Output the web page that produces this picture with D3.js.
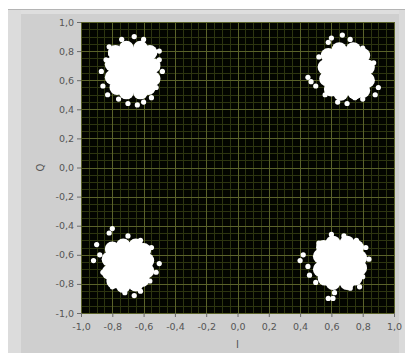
<!DOCTYPE html>
<html>
<head>
<meta charset="utf-8">
<script src="https://d3js.org/d3.v7.min.js"></script>
<style>
  html, body { margin: 0; padding: 0; background: #ffffff; }
  svg { display: block; }
</style>
</head>
<body>
<div id="chart"></div>
<script>
// constellation samples (I, Q)
// dense middle of each cloud
var coreTL = [[-0.67,0.67],[-0.75,0.75],[-0.67,0.77],[-0.59,0.75],[-0.76,0.67],[-0.58,0.67],[-0.75,0.59],
              [-0.67,0.57],[-0.59,0.59],[-0.80,0.71],[-0.54,0.70],[-0.71,0.82],[-0.62,0.82],[-0.80,0.62],
              [-0.54,0.61],[-0.71,0.52],[-0.62,0.52],[-0.78,0.79],[-0.56,0.79],[-0.77,0.55],[-0.57,0.55],
              [-0.71,0.71],[-0.63,0.71],[-0.71,0.63],[-0.63,0.63]];
var coreTR = [[0.69,0.66],[0.61,0.73],[0.69,0.76],[0.77,0.74],[0.60,0.65],[0.78,0.66],[0.62,0.58],
              [0.69,0.56],[0.77,0.58],[0.56,0.69],[0.83,0.69],[0.65,0.81],[0.74,0.81],[0.57,0.61],
              [0.83,0.60],[0.66,0.51],[0.75,0.52],[0.58,0.77],[0.80,0.77],[0.60,0.54],[0.80,0.53],
              [0.65,0.70],[0.73,0.70],[0.65,0.62],[0.73,0.62]];
var coreBL = [[-0.70,-0.67],[-0.77,-0.60],[-0.70,-0.58],[-0.62,-0.60],[-0.78,-0.67],[-0.61,-0.67],[-0.77,-0.75],
              [-0.70,-0.77],[-0.63,-0.75],[-0.82,-0.63],[-0.58,-0.64],[-0.73,-0.54],[-0.65,-0.54],[-0.82,-0.72],
              [-0.58,-0.71],[-0.73,-0.81],[-0.65,-0.80],[-0.80,-0.56],[-0.60,-0.57],[-0.79,-0.78],[-0.61,-0.77],
              [-0.74,-0.63],[-0.66,-0.63],[-0.74,-0.71],[-0.66,-0.71]];
var coreBR = [[0.65,-0.65],[0.58,-0.58],[0.65,-0.56],[0.73,-0.58],[0.57,-0.65],[0.74,-0.65],[0.58,-0.73],
              [0.65,-0.75],[0.72,-0.73],[0.53,-0.61],[0.78,-0.62],[0.61,-0.52],[0.70,-0.52],[0.53,-0.70],
              [0.78,-0.69],[0.61,-0.79],[0.70,-0.79],[0.55,-0.55],[0.76,-0.55],[0.56,-0.76],[0.75,-0.76],
              [0.61,-0.61],[0.69,-0.61],[0.61,-0.69],[0.69,-0.69]];

// loose samples around the edges of each cloud
var edgeTL = [[-0.86,0.56],[-0.84,0.74],[-0.82,0.83],[-0.66,0.90],[-0.60,0.88],[-0.50,0.80],[-0.48,0.66],
              [-0.52,0.55],[-0.60,0.45],[-0.70,0.44],[-0.76,0.47],[-0.83,0.50],[-0.87,0.66],[-0.74,0.88],
              [-0.50,0.74],[-0.55,0.48],[-0.64,0.43],[-0.81,0.78]];
var edgeTR = [[0.45,0.62],[0.47,0.59],[0.50,0.56],[0.52,0.76],[0.58,0.86],[0.67,0.91],[0.72,0.88],
              [0.80,0.82],[0.87,0.72],[0.90,0.55],[0.88,0.50],[0.80,0.47],[0.70,0.44],[0.64,0.45],
              [0.56,0.50],[0.85,0.62],[0.60,0.89],[0.75,0.48]];
var edgeBL = [[-0.80,-0.42],[-0.82,-0.45],[-0.90,-0.53],[-0.88,-0.60],[-0.86,-0.72],[-0.80,-0.82],[-0.72,-0.86],
              [-0.62,-0.85],[-0.56,-0.78],[-0.50,-0.66],[-0.55,-0.55],[-0.62,-0.50],[-0.70,-0.47],[-0.92,-0.64],
              [-0.66,-0.88],[-0.52,-0.72]];
var edgeBR = [[0.42,-0.60],[0.45,-0.68],[0.40,-0.64],[0.52,-0.52],[0.60,-0.46],[0.68,-0.47],[0.76,-0.50],
              [0.82,-0.55],[0.84,-0.63],[0.80,-0.75],[0.72,-0.83],[0.62,-0.86],[0.58,-0.90],[0.61,-0.90],
              [0.78,-0.82],[0.50,-0.79],[0.46,-0.74]];

var tickValues = [-1, -0.8, -0.6, -0.4, -0.2, 0, 0.2, 0.4, 0.6, 0.8, 1];
var tickLabels = ["-1,0", "-0,8", "-0,6", "-0,4", "-0,2", "0,0", "0,2", "0,4", "0,6", "0,8", "1,0"];
var minorValues = d3.range(-20, 21).map(function (k) { return k / 20; });

var width  = 408;
var height = 353;
var margin = {top: 22, right: 14, bottom: 40, left: 81};
var plotW  = width - margin.left - margin.right;
var plotH  = height - margin.top - margin.bottom;

var svg = d3.select("#chart")
    .append("svg")
    .attr("width", width)
    .attr("height", height);

/////////////
/// Panel ///
/////////////

svg.append("rect").attr("x", 8).attr("y", 9).attr("width", 397).attr("height", 344).attr("fill", "#cfcfcf");
svg.append("rect").attr("x", 8).attr("y", 9).attr("width", 397).attr("height", 5).attr("fill", "#dedede");
svg.append("rect").attr("x", 8).attr("y", 9).attr("width", 13).attr("height", 344).attr("fill", "#dcdcdc");
svg.append("rect").attr("x", 399).attr("y", 9).attr("width", 6).attr("height", 344).attr("fill", "#dadada");
svg.append("line").attr("x1", 8).attr("x2", 405).attr("y1", 9.5).attr("y2", 9.5).attr("stroke", "#b4b4b4");

var g = svg.append("g")
    .attr("transform", "translate(" + margin.left + "," + margin.top + ")");

////////////
/// Axes ///
////////////

var x = d3.scaleLinear().domain([-1, 1]).range([0, plotW]);
var y = d3.scaleLinear().domain([-1, 1]).range([plotH, 0]);

g.append("rect")
    .attr("width", plotW)
    .attr("height", plotH)
    .attr("fill", "#030500");

// minor grid
g.append("g").selectAll("line.vminor")
    .data(minorValues).enter().append("line")
    .attr("x1", function (d) { return Math.round(x(d)) + 0.5; })
    .attr("x2", function (d) { return Math.round(x(d)) + 0.5; })
    .attr("y1", 0).attr("y2", plotH)
    .attr("stroke", "#2d3510");
g.append("g").selectAll("line.hminor")
    .data(minorValues).enter().append("line")
    .attr("y1", function (d) { return Math.round(y(d)) + 0.5; })
    .attr("y2", function (d) { return Math.round(y(d)) + 0.5; })
    .attr("x1", 0).attr("x2", plotW)
    .attr("stroke", "#2d3510");

// major grid
g.append("g").selectAll("line.vmajor")
    .data(tickValues).enter().append("line")
    .attr("x1", function (d) { return Math.round(x(d)) + 0.5; })
    .attr("x2", function (d) { return Math.round(x(d)) + 0.5; })
    .attr("y1", 0).attr("y2", plotH)
    .attr("stroke", "#5a622a");
g.append("g").selectAll("line.hmajor")
    .data(tickValues).enter().append("line")
    .attr("y1", function (d) { return Math.round(y(d)) + 0.5; })
    .attr("y2", function (d) { return Math.round(y(d)) + 0.5; })
    .attr("x1", 0).attr("x2", plotW)
    .attr("stroke", "#5a622a");

var fmt = function (d) { return tickLabels[tickValues.indexOf(d)]; };

var xAxis = g.append("g")
    .attr("transform", "translate(0," + plotH + ")")
    .call(d3.axisBottom(x).tickValues(tickValues).tickFormat(fmt).tickSize(4).tickPadding(6));
var yAxis = g.append("g")
    .call(d3.axisLeft(y).tickValues(tickValues).tickFormat(fmt).tickSize(4).tickPadding(3));

[xAxis, yAxis].forEach(function (a) {
    a.select(".domain").remove();
    a.selectAll(".tick line").attr("stroke", "#6a6a6a");
    a.selectAll(".tick text")
        .attr("fill", "#555555")
        .attr("style", "font-family: 'DejaVu Sans'; font-size: 9.5px;");
});

//////////////
/// Labels ///
//////////////

svg.append("text")
    .attr("text-anchor", "middle")
    .attr("x", margin.left + x(0))
    .attr("y", 348)
    .attr("fill", "#555555")
    .attr("style", "font-family: 'DejaVu Sans'; font-size: 10px;")
    .text("I");

svg.append("text")
    .attr("text-anchor", "middle")
    .attr("transform", "translate(44," + (margin.top + y(0)) + ") rotate(-90)")
    .attr("fill", "#555555")
    .attr("style", "font-family: 'DejaVu Sans'; font-size: 10px;")
    .text("Q");

//////////////
/// Points ///
//////////////

var dots = g.append("g");

[coreTL, coreTR, coreBL, coreBR].forEach(function (pts) {
    dots.selectAll(null).data(pts).enter().append("circle")
        .attr("cx", function (d) { return x(d[0]); })
        .attr("cy", function (d) { return y(d[1]); })
        .attr("r", 7.5)
        .attr("fill", "#ffffff");
});

[edgeTL, edgeTR, edgeBL, edgeBR].forEach(function (pts) {
    dots.selectAll(null).data(pts).enter().append("circle")
        .attr("cx", function (d) { return x(d[0]); })
        .attr("cy", function (d) { return y(d[1]); })
        .attr("r", 2.6)
        .attr("fill", "#ffffff");
});
</script>
</body>
</html>
